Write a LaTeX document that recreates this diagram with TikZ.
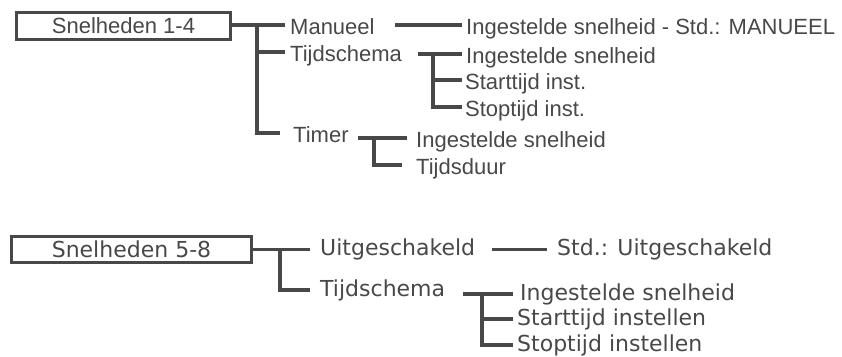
\documentclass[tikz,border=0pt]{standalone}
\usepackage{fontspec}
\usepackage{tikz}
\newfontfamily\topfont{Liberation Sans}
\newfontfamily\lowfont{DejaVu Sans}
\definecolor{ink}{HTML}{484848}
\tikzset{menubox/.style = {draw=ink, line width=3pt, inner sep=0pt, text=ink}}
\tikzset{item/.style = {anchor=west, inner xsep=4pt, inner ysep=0pt, text depth=0pt, text=ink}}
\tikzset{topitem/.style = {item, font=\topfont\fontsize{22}{26}\selectfont, text height=18pt}}
\tikzset{lowitem/.style = {item, font=\lowfont\fontsize{22}{26}\selectfont, text height=12pt}}
\tikzset{link/.style = {draw=ink, line width=3.2pt}}

\begin{document}
\begin{tikzpicture}[x=1pt, y=-1pt]
  \useasboundingbox (0,0) rectangle (842,356);

  \node [menubox, minimum width=214pt, minimum height=27pt, font=\topfont\fontsize{22}{26}\selectfont] (sn14) at (123.5,26) {Snelheden 1-4};
  \node [topitem, inner xsep=5pt] (man) at (285,25) {Manueel};
  \node [topitem, inner xsep=5pt] (tij1) at (285,52) {Tijdschema};
  \node [topitem, inner xsep=13pt] (tim) at (280,133) {Timer};
  \node [topitem] (ing1) at (462,25) {Ingestelde snelheid - Std.: MANUEEL};
  \node [topitem] (ing2) at (462,54) {Ingestelde snelheid};
  \node [topitem, inner xsep=3pt] (sta1) at (462,80) {Starttijd inst.};
  \node [topitem, inner xsep=3pt] (sto1) at (462,107) {Stoptijd inst.};
  \node [topitem, inner xsep=9pt] (ing3) at (407,138) {Ingestelde snelheid};
  \node [topitem, inner xsep=14pt] (duur) at (402,165) {Tijdsduur};

  \coordinate (v1) at (257,25);
  \coordinate (m1) at (395,25);
  \coordinate (t2) at (418,54);
  \coordinate (v2) at (433,54);
  \coordinate (t3) at (358,138);
  \coordinate (v3) at (374,138);

  \path[link] (sn14.east |- man) -- (man);
  \path[link] (v1) |- (tim);
  \path[link] (v1 |- tij1) -- (tij1);
  \path[link] (m1) -- (ing1);
  \path[link] (t2) -- (ing2);
  \path[link] (v2) |- (sto1);
  \path[link] (v2 |- sta1) -- (sta1);
  \path[link] (t3) -- (ing3);
  \path[link] (v3) |- (duur);

  \node [menubox, minimum width=240pt, minimum height=26.5pt, font=\lowfont\fontsize{22}{26}\selectfont] (sn58) at (131.5,249.5) {Snelheden 5-8};
  \node [lowitem, inner xsep=10pt] (uit) at (310,249.5) {Uitgeschakeld};
  \node [lowitem, inner xsep=10pt] (tij2) at (310,290) {Tijdschema};
  \node [lowitem, inner xsep=10pt] (std) at (547,249.5) {Std.: Uitgeschakeld};
  \node [lowitem, inner xsep=7pt] (ing4) at (513,294) {Ingestelde snelheid};
  \node [lowitem] (sta2) at (513,319) {Starttijd instellen};
  \node [lowitem] (sto2) at (513,345) {Stoptijd instellen};

  \coordinate (v4) at (280,249.5);
  \coordinate (u1) at (492,249.5);
  \coordinate (t4) at (463,294);
  \coordinate (v5) at (482,294);

  \path[link] (sn58) -- (uit);
  \path[link] (v4) |- (tij2);
  \path[link] (u1) -- (std);
  \path[link] (t4) -- (ing4);
  \path[link] (v5) |- (sto2);
  \path[link] (v5 |- sta2) -- (sta2);
\end{tikzpicture}
\end{document}
